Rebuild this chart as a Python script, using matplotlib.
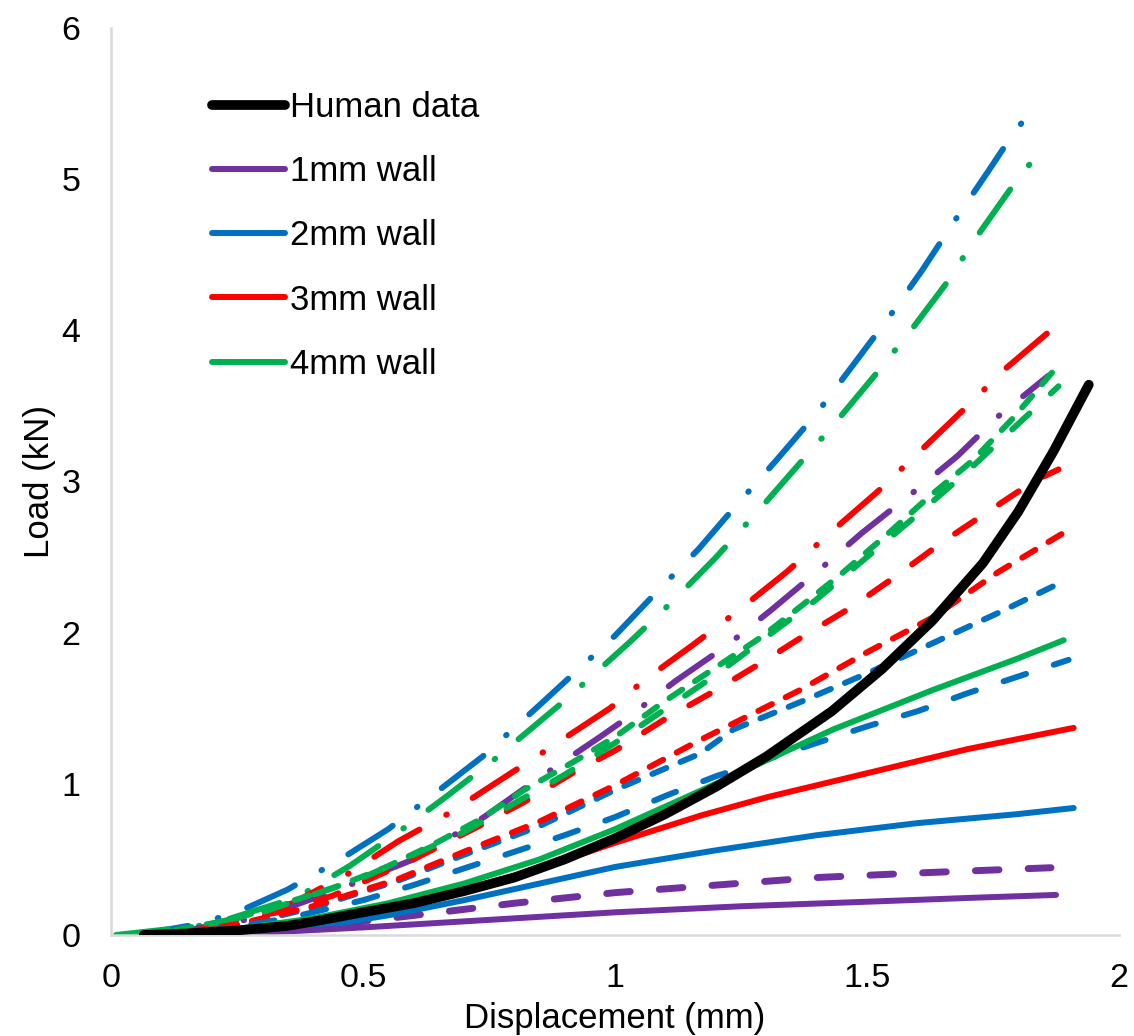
import numpy as np
import matplotlib
matplotlib.use('Agg')
import matplotlib.pyplot as plt

plt.rcParams['font.family'] = ['Liberation Sans', 'DejaVu Sans']
plt.rcParams['lines.scale_dashes'] = False

PURPLE = '#7030A0'
BLUE = '#0070C0'
RED = '#FF0000'
GREEN = '#00B050'

# human reference curve
human_x = [0.065, 0.15, 0.25, 0.35, 0.42, 0.5, 0.6, 0.7, 0.8, 0.9, 1.0, 1.1, 1.2, 1.3, 1.43, 1.53, 1.63, 1.73, 1.8, 1.87, 1.94]
human_y = [0, 0.01, 0.03, 0.06, 0.1, 0.15, 0.21, 0.29, 0.38, 0.5, 0.64, 0.8, 0.98, 1.18, 1.48, 1.76, 2.08, 2.46, 2.8, 3.2, 3.64]

# 1mm wall
p_solid_x = [0.07, 0.3, 0.5, 0.75, 1.0, 1.25, 1.5, 1.7, 1.875]
p_solid_y = [0, 0.015, 0.05, 0.1, 0.15, 0.19, 0.22, 0.245, 0.265]
p_dash_x = [0.15, 0.3, 0.5, 0.64, 0.8, 1.0, 1.2, 1.4, 1.6, 1.865]
p_dash_y = [0, 0.03, 0.09, 0.145, 0.21, 0.28, 0.33, 0.38, 0.41, 0.445]
p_dd_x = [0.1, 0.3, 0.45, 0.6, 0.74, 0.85, 0.97, 1.03, 1.12, 1.22, 1.31, 1.40, 1.49, 1.585, 1.68, 1.76, 1.86]
p_dd_y = [0, 0.12, 0.3, 0.5, 0.78, 1.04, 1.31, 1.45, 1.68, 1.91, 2.15, 2.4, 2.66, 2.91, 3.17, 3.43, 3.70]

# 2mm wall
b_solid_x = [0.07, 0.25, 0.4, 0.55, 0.7, 0.85, 1.0, 1.2, 1.4, 1.6, 1.8, 1.91]
b_solid_y = [0, 0.01, 0.05, 0.13, 0.23, 0.34, 0.45, 0.56, 0.66, 0.74, 0.8, 0.84]
b_dash_x = [0.07, 0.2, 0.35, 0.5, 0.6, 0.7, 0.8, 0.9, 1.0, 1.1, 1.2, 1.4, 1.5, 1.6, 1.7, 1.8, 1.9]
b_dash_y = [0, 0.03, 0.11, 0.23, 0.33, 0.44, 0.55, 0.66, 0.78, 0.92, 1.05, 1.27, 1.38, 1.48, 1.6, 1.71, 1.82]
b_sdash_x = [0.1, 0.25, 0.4, 0.57, 0.7, 0.85, 1.0, 1.169, 1.235, 1.367, 1.5, 1.63, 1.76, 1.89]
b_sdash_y = [0, 0.06, 0.18, 0.36, 0.53, 0.72, 0.96, 1.2, 1.36, 1.54, 1.73, 1.93, 2.13, 2.34]
b_dd_x = [0.05, 0.17, 0.25, 0.35, 0.45, 0.55, 0.64, 0.737, 0.85, 1.0, 1.08, 1.165, 1.24, 1.32, 1.40, 1.47, 1.54, 1.61, 1.675, 1.74, 1.78, 1.835]
b_dd_y = [0, 0.07, 0.15, 0.30, 0.49, 0.70, 0.93, 1.18, 1.52, 1.98, 2.26, 2.55, 2.84, 3.14, 3.45, 3.76, 4.07, 4.4, 4.73, 5.05, 5.25, 5.50]

# 3mm wall
r_solid_x = [0.07, 0.25, 0.4, 0.55, 0.7, 0.85, 1.0, 1.17, 1.3, 1.5, 1.7, 1.91]
r_solid_y = [0, 0.03, 0.09, 0.18, 0.3, 0.44, 0.61, 0.79, 0.91, 1.07, 1.23, 1.37]
r_sdash_x = [0.1, 0.25, 0.4, 0.57, 0.7, 0.85, 1.0, 1.169, 1.235, 1.367, 1.5, 1.63, 1.76, 1.89]
r_sdash_y = [0, 0.07, 0.19, 0.37, 0.55, 0.75, 0.99, 1.29, 1.4, 1.62, 1.87, 2.1, 2.4, 2.66]
r_dash_x = [0.1, 0.33, 0.44, 0.6, 0.73, 0.82, 0.915, 1.0, 1.1, 1.19, 1.29, 1.38, 1.47, 1.56, 1.65, 1.74, 1.83, 1.88]
r_dash_y = [0, 0.15, 0.26, 0.5, 0.72, 0.88, 1.07, 1.22, 1.43, 1.6, 1.8, 1.99, 2.17, 2.38, 2.6, 2.8, 3.0, 3.08]
r_dd_x = [0.1, 0.2, 0.36, 0.473, 0.57, 0.673, 0.77, 0.867, 0.99, 1.06, 1.155, 1.25, 1.34, 1.43, 1.52, 1.605, 1.69, 1.776, 1.875]
r_dd_y = [0, 0.06, 0.21, 0.41, 0.62, 0.81, 1.02, 1.23, 1.5, 1.69, 1.92, 2.16, 2.4, 2.67, 2.93, 3.2, 3.47, 3.75, 4.03]

# 4mm wall
g_solid_x = [0.07, 0.25, 0.4, 0.55, 0.7, 0.85, 1.0, 1.2, 1.433, 1.63, 1.8, 1.89]
g_solid_y = [0, 0.04, 0.11, 0.21, 0.34, 0.5, 0.7, 1.0, 1.36, 1.62, 1.83, 1.95]
g_sdash_x = [0.07, 0.24, 0.44, 0.54, 0.64, 0.73, 0.82, 0.915, 1.0, 1.1, 1.2, 1.29, 1.367, 1.446, 1.54, 1.62, 1.71, 1.79, 1.867]
g_sdash_y = [0, 0.1, 0.31, 0.44, 0.6, 0.76, 0.96, 1.14, 1.31, 1.55, 1.77, 1.97, 2.17, 2.38, 2.65, 2.89, 3.14, 3.42, 3.72]
g_dash_x = [0.1, 0.3, 0.5, 0.7, 0.9, 1.0, 1.2, 1.4, 1.6, 1.7, 1.79, 1.88]
g_dash_y = [0, 0.15, 0.38, 0.68, 1.06, 1.27, 1.72, 2.22, 2.78, 3.07, 3.35, 3.63]
g_dd_x = [0.01, 0.2, 0.37, 0.475, 0.57, 0.667, 0.76, 0.9, 1.03, 1.115, 1.198, 1.28, 1.356, 1.435, 1.51, 1.585, 1.655, 1.72, 1.79, 1.83]
g_dd_y = [0, 0.07, 0.25, 0.46, 0.68, 0.92, 1.16, 1.55, 1.94, 2.21, 2.49, 2.79, 3.08, 3.38, 3.68, 3.99, 4.3, 4.63, 4.96, 5.13]

legend_labels = ['Human data', '1mm wall', '2mm wall', '3mm wall', '4mm wall']

# dash patterns in points
LONG = (0, (17, 21))
SHORT = (0, (11, 11))
DASHDOT = (0, (38, 22, 0.5, 22))

LW = 4.3

fig = plt.figure(figsize=(11.34, 10.36), dpi=100)
ax = fig.add_axes([0.0979, 0.0975, 0.8889, 0.8755])

def line(x, y, color, ls='-', lw=LW, z=2):
    ax.plot(x, y, color=color, lw=lw, linestyle=ls, solid_capstyle='round',
            dash_capstyle='round', solid_joinstyle='round', zorder=z)

line(b_dd_x, b_dd_y, BLUE, DASHDOT)
line(g_dd_x, g_dd_y, GREEN, DASHDOT)
line(r_dd_x, r_dd_y, RED, DASHDOT)
line(p_dd_x, p_dd_y, PURPLE, DASHDOT)
line(r_dash_x, r_dash_y, RED, LONG)
line(g_dash_x, g_dash_y, GREEN, LONG)
line(g_sdash_x, g_sdash_y, GREEN, SHORT)
line(b_sdash_x, b_sdash_y, BLUE, SHORT)
line(r_sdash_x, r_sdash_y, RED, SHORT)
line(b_dash_x, b_dash_y, BLUE, LONG)
line(p_dash_x, p_dash_y, PURPLE, LONG, lw=5)
line(g_solid_x, g_solid_y, GREEN)
line(r_solid_x, r_solid_y, RED)
line(b_solid_x, b_solid_y, BLUE)
line(p_solid_x, p_solid_y, PURPLE)
line(human_x, human_y, 'black', lw=7, z=3)

# legend handles
handles = []
for c, w in zip(['black', PURPLE, BLUE, RED, GREEN], [7, LW, LW, LW, LW]):
    h, = ax.plot([], [], color=c, lw=w, solid_capstyle='round')
    handles.append(h)
ax.legend(handles, legend_labels, loc='upper left', bbox_to_anchor=(0.086, 0.946),
          frameon=False, fontsize=25, handlelength=2.1, handletextpad=0.15,
          labelspacing=0.9, borderaxespad=0)

ax.set_xlim(0, 2)
ax.set_ylim(0, 6)
ax.set_xticks([0, 0.5, 1, 1.5, 2])
ax.set_xticklabels(['0', '0.5', '1', '1.5', '2'])
ax.set_yticks([0, 1, 2, 3, 4, 5, 6])
ax.tick_params(length=0, labelsize=24.5)
ax.tick_params(axis='x', pad=20)
ax.tick_params(axis='y', pad=22)
for s in ['top', 'right']:
    ax.spines[s].set_visible(False)
for s in ['left', 'bottom']:
    ax.spines[s].set_color('#d9d9d9')
    ax.spines[s].set_linewidth(1.8)

ax.set_xlabel('Displacement (mm)', fontsize=25, labelpad=6)
ax.set_ylabel('Load (kN)', fontsize=25, labelpad=4)

fig.savefig('out.png', dpi=100)
